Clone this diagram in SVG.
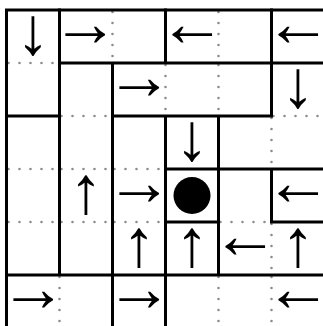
<svg xmlns="http://www.w3.org/2000/svg" width="323" height="326" viewBox="0 0 323 326">
<style>
.wall{fill:none;stroke:#000;stroke-width:3;stroke-linecap:square}
.dot{fill:none;stroke:#8c8c8c;stroke-width:2.6;stroke-linecap:round;stroke-dasharray:0 11}
.ar{font-family:"Liberation Serif","Times New Roman",serif;font-size:67px;fill:#000;text-anchor:middle}
</style>
<rect width="323" height="326" fill="#fff"/>
<g id="dotted-lines">
<line class="dot" x1="59.5" y1="277" x2="59.5" y2="328"/>
<line class="dot" x1="112.5" y1="12" x2="112.5" y2="63"/>
<line class="dot" x1="165.5" y1="65" x2="165.5" y2="116"/>
<line class="dot" x1="218.5" y1="12" x2="218.5" y2="63"/>
<line class="dot" x1="218.5" y1="65" x2="218.5" y2="116"/>
<line class="dot" x1="218.5" y1="277" x2="218.5" y2="328"/>
<line class="dot" x1="271.5" y1="118" x2="271.5" y2="169"/>
<line class="dot" x1="271.5" y1="224" x2="271.5" y2="275"/>
<line class="dot" x1="271.5" y1="277" x2="271.5" y2="328"/>
<line class="dot" x1="8.5" y1="63" x2="59.5" y2="63"/>
<line class="dot" x1="61.5" y1="116" x2="112.5" y2="116"/>
<line class="dot" x1="273.5" y1="116" x2="324.5" y2="116"/>
<line class="dot" x1="8.5" y1="169" x2="59.5" y2="169"/>
<line class="dot" x1="61.5" y1="169" x2="112.5" y2="169"/>
<line class="dot" x1="114.5" y1="169" x2="165.5" y2="169"/>
<line class="dot" x1="8.5" y1="222" x2="59.5" y2="222"/>
<line class="dot" x1="61.5" y1="222" x2="112.5" y2="222"/>
<line class="dot" x1="114.5" y1="222" x2="165.5" y2="222"/>
<line class="dot" x1="220.5" y1="222" x2="271.5" y2="222"/>
</g>
<g id="walls">
<rect class="wall" x="6.5" y="10" width="318" height="318"/>
<path class="wall" d="M59.5 10V275M112.5 63V328M165.5 10V63M165.5 116V328M218.5 116V275M271.5 10V116M271.5 169V222M59.5 63H324.5M6.5 116H59.5M112.5 116H271.5M165.5 169H324.5M165.5 222H218.5M271.5 222H324.5M6.5 275H324.5"/>
</g>
<g id="cells">
<text id="r0c0" class="ar" x="33" y="53.7">↓</text>
<text id="r0c1" class="ar" x="85" y="45.5">→</text>
<text id="r0c3" class="ar" x="192" y="45.5">←</text>
<text id="r0c5" class="ar" x="298" y="45.5">←</text>
<text id="r1c2" class="ar" x="139" y="98.5">→</text>
<text id="r1c5" class="ar" x="298" y="106.7">↓</text>
<text id="r2c3" class="ar" x="192" y="159.7">↓</text>
<text id="r3c1" class="ar" x="86" y="212.7">↑</text>
<text id="r3c2" class="ar" x="139" y="204.5">→</text>
<circle id="r3c3" cx="192" cy="195.5" r="18.5" fill="#000"/>
<text id="r3c5" class="ar" x="298" y="204.5">←</text>
<text id="r4c2" class="ar" x="139" y="265.7">↑</text>
<text id="r4c3" class="ar" x="192" y="265.7">↑</text>
<text id="r4c4" class="ar" x="245" y="257.5">←</text>
<text id="r4c5" class="ar" x="298" y="265.7">↑</text>
<text id="r5c0" class="ar" x="33" y="310.5">→</text>
<text id="r5c2" class="ar" x="139" y="310.5">→</text>
<text id="r5c5" class="ar" x="298" y="310.5">←</text>
</g>
</svg>
